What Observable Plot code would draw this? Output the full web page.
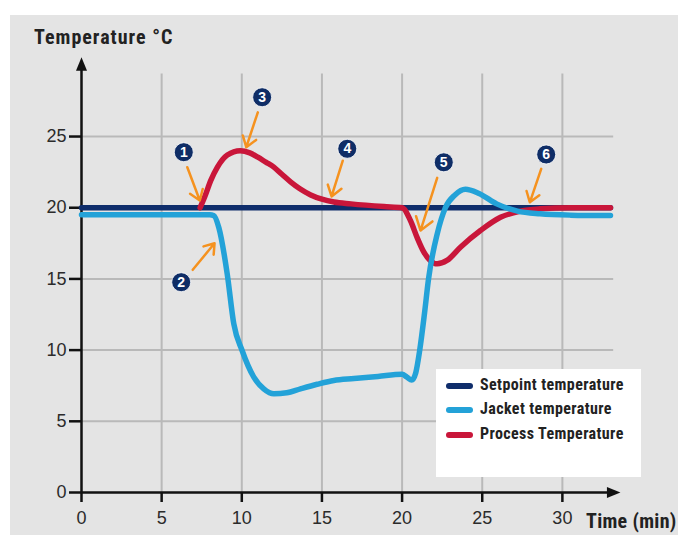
<!DOCTYPE html>
<html>
<head>
<meta charset="utf-8">
<script src="https://cdn.jsdelivr.net/npm/d3@7"></script>
<script src="https://cdn.jsdelivr.net/npm/@observablehq/plot@0.6"></script>
<style>
  html, body { margin: 0; padding: 0; background: #ffffff; }
  #page { position: relative; width: 678px; height: 535px; overflow: hidden; background: #ffffff; }
  #panel { position: absolute; left: 10px; top: 15px; width: 668px; height: 520px; background: #e4e4e4; }
  #panel svg { position: absolute; left: 0; top: 0; }
  .bold { font-family: "Liberation Sans Narrow", "Roboto Condensed", "DejaVu Sans Condensed", "Liberation Sans", sans-serif; font-weight: 700; color: #222; position: absolute; white-space: nowrap; line-height: 1; }
  #ytitle { left: 34px; top: 27px; font-size: 20px; letter-spacing: 1px; }
  #xtitle { left: 586px; top: 511px; font-size: 20px; letter-spacing: 0.3px; }
  #legend { position: absolute; left: 436px; top: 369px; width: 205px; height: 108px; background: #ffffff; }
  .item { position: absolute; left: 10px; height: 20px; }
  .sw { position: absolute; left: 0; top: 7px; width: 27px; height: 6px; border-radius: 3px; }
  .lt { position: absolute; left: 34px; top: 1px; font-family: "Liberation Sans Narrow", "Roboto Condensed", "DejaVu Sans Condensed", "Liberation Sans", sans-serif; font-weight: 700; font-size: 16px; letter-spacing: 0.4px; color: #222; white-space: nowrap; line-height: 1; }
  g[aria-label="x-axis tick label"] text, g[aria-label="y-axis tick label"] text { fill: #2b2b2b; }
</style>
</head>
<body>
<div id="page">
  <div id="panel"></div>
  <div id="ytitle" class="bold">Temperature °C</div>
  <div id="xtitle" class="bold">Time (min)</div>
  <div id="legend"></div>
</div>
<script>
// ---- data ----
const ticksX = [0, 5, 10, 15, 20, 25, 30];
const ticksY = [0, 5, 10, 15, 20, 25];

const seriesNames = ["Setpoint temperature", "Jacket temperature", "Process Temperature"];
const seriesColors = ["#0f2d6b", "#23a2d8", "#c9163a"];

const setpointT = [0, 33];
const setpointV = [20, 20];

const jacketT = [0, 4, 8.0, 8.25, 8.57, 9.09, 9.5, 10.02, 10.75, 11.37, 12.0, 12.8, 13.66, 14.7, 15.74, 17.0, 18.5, 20.0, 20.3, 20.6, 20.85, 21.1, 21.4, 21.65, 22.2, 22.7, 23.3, 23.95, 24.8, 25.9, 27.2, 28.6, 30.5, 33.0];
const jacketV = [19.5, 19.5, 19.5, 19.45, 18.6, 15.36, 11.85, 9.97, 8.1, 7.28, 6.93, 7.0, 7.28, 7.6, 7.87, 8.0, 8.15, 8.3, 8.1, 7.9, 8.4, 10.0, 12.6, 15.0, 18.2, 20.0, 20.9, 21.3, 21.0, 20.27, 19.76, 19.57, 19.48, 19.45];

const processT = [7.4, 7.7, 8.06, 8.48, 9.1, 9.9, 10.5, 11.0, 11.5, 12.0, 12.5, 13.06, 13.6, 14.3, 15.0, 15.75, 16.8, 18.86, 20.0, 20.52, 20.94, 21.35, 21.75, 22.19, 22.8, 23.64, 24.89, 26.14, 27.39, 28.6, 30.5, 33.0];
const processV = [20.0, 20.8, 21.9, 22.85, 23.7, 24.0, 23.85, 23.55, 23.2, 22.85, 22.35, 21.8, 21.35, 20.9, 20.6, 20.4, 20.27, 20.08, 20.0, 19.1, 17.9, 16.9, 16.3, 16.06, 16.3, 17.23, 18.4, 19.33, 19.76, 19.92, 20.0, 20.0];

// numbered annotations
const noteNum = ["1", "2", "3", "4", "5", "6"];
const noteX = [6.38, 6.22, 11.27, 16.58, 22.6, 28.99];
const noteY = [23.9, 14.77, 27.76, 24.14, 23.19, 23.74];
const arrowX1 = [6.60, 6.94, 11.0, 16.30, 22.19, 28.68];
const arrowY1 = [22.84, 15.64, 26.7, 23.3, 22.1, 22.73];
const arrowX2 = [7.38, 8.30, 10.28, 15.6, 21.15, 27.97];
const arrowY2 = [20.51, 17.5, 24.25, 20.79, 18.4, 20.38];

// grid / axis extents
const gridTopY = 29.4;
const gridRightX = 33.2;
const axisEndX = 33.06;
const axisEndY = 29.94;

// ---- build ----
const zip = (t, v) => t.map((d, i) => ({t: d, v: v[i]}));
const setpoint = zip(setpointT, setpointV);
const jacket = zip(jacketT, jacketV);
const process = zip(processT, processV);
const notes = noteNum.map((n, i) => ({n, x: noteX[i], y: noteY[i], x1: arrowX1[i], y1: arrowY1[i], x2: arrowX2[i], y2: arrowY2[i]}));

const rightHead = { draw(ctx) { ctx.moveTo(9, 0); ctx.lineTo(-4.5, -5.5); ctx.lineTo(-4.5, 5.5); ctx.closePath(); } };
const upHead = { draw(ctx) { ctx.moveTo(0, -9); ctx.lineTo(-5.5, 4.5); ctx.lineTo(5.5, 4.5); ctx.closePath(); } };

const navy = "#0f2d66";
const orange = "#f5921f";
const lineOpts = {x: "t", y: "v", curve: "monotone-x", strokeWidth: 5.5, strokeLinecap: "round", strokeLinejoin: "round"};

const chart = Plot.plot({
  width: 668,
  height: 520,
  marginLeft: 71,
  marginRight: 52,
  marginTop: 35.6,
  marginBottom: 43,
  x: {domain: [0, 34]},
  y: {domain: [0, 31]},
  style: {background: "transparent", fontFamily: "'Liberation Sans', Arial, sans-serif"},
  marks: [
    Plot.ruleX(ticksX.filter(d => d > 0), {y1: 0, y2: gridTopY, stroke: "#b9b9b9", strokeWidth: 2}),
    Plot.ruleY(ticksY.filter(d => d > 0), {x1: 0, x2: gridRightX, stroke: "#b9b9b9", strokeWidth: 2}),
    Plot.axisX({ticks: ticksX, tickSize: 10, tickPadding: 9, fontSize: 18, label: null, strokeWidth: 2.5, stroke: "#111"}),
    Plot.axisY({ticks: ticksY, tickSize: 12, tickPadding: 3, fontSize: 18, label: null, strokeWidth: 2.5, stroke: "#111"}),
    Plot.ruleY([0], {x1: 0, x2: axisEndX, stroke: "#111", strokeWidth: 2.5}),
    Plot.ruleX([0], {y1: 0, y2: axisEndY, stroke: "#111", strokeWidth: 2.5}),
    Plot.dot([{x: axisEndX, y: 0}], {x: "x", y: "y", symbol: rightHead, fill: "#111", stroke: "none", r: 5}),
    Plot.dot([{x: 0, y: axisEndY}], {x: "x", y: "y", symbol: upHead, fill: "#111", stroke: "none", r: 5}),
    Plot.line(setpoint, {...lineOpts, stroke: seriesColors[0]}),
    Plot.line(process, {...lineOpts, stroke: seriesColors[2]}),
    Plot.line(jacket, {...lineOpts, stroke: seriesColors[1]}),
    Plot.arrow(notes, {x1: "x1", y1: "y1", x2: "x2", y2: "y2", stroke: orange, strokeWidth: 2.5, headLength: 9, headAngle: 70}),
    Plot.dot(notes, {x: "x", y: "y", r: 9.5, fill: navy, stroke: "#ffffff", strokeWidth: 0.8}),
    Plot.text(notes, {x: "x", y: "y", text: "n", fill: "#ffffff", fontWeight: "bold", fontSize: 14, fontFamily: "'Liberation Sans', Arial, sans-serif"})
  ]
});
document.getElementById("panel").appendChild(chart);

// legend
const legend = document.getElementById("legend");
const rowTops = [7, 31, 56];
seriesNames.forEach((name, i) => {
  const item = document.createElement("div");
  item.className = "item";
  item.style.top = rowTops[i] + "px";
  const sw = document.createElement("div");
  sw.className = "sw";
  sw.style.background = seriesColors[i];
  const lt = document.createElement("div");
  lt.className = "lt";
  lt.textContent = name;
  item.appendChild(sw);
  item.appendChild(lt);
  legend.appendChild(item);
});
</script>
</body>
</html>
